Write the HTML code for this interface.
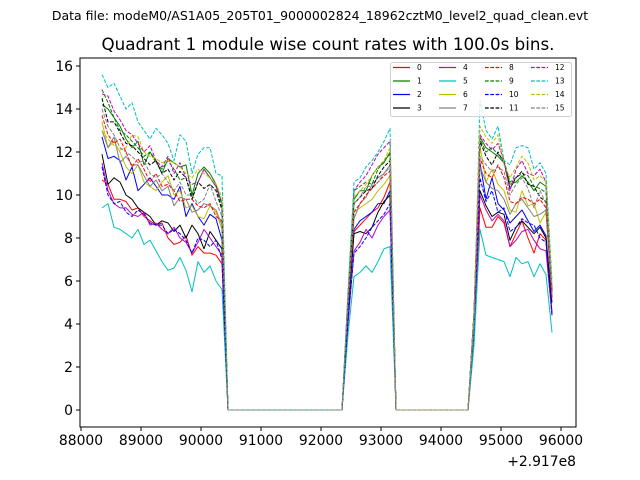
<!DOCTYPE html>
<html><head><meta charset="utf-8"><style>
html,body{margin:0;padding:0;background:#fff;width:640px;height:480px;overflow:hidden}
svg{font-family:"DejaVu Sans","Liberation Sans",sans-serif}
</style></head><body>
<svg id="chart" width="640" height="480" viewBox="0 0 640 480" xmlns="http://www.w3.org/2000/svg">
<rect width="640" height="480" fill="#fff"/>
<text x="320" y="20" font-size="12.5" text-anchor="middle">Data file: modeM0/AS1A05_205T01_9000002824_18962cztM0_level2_quad_clean.evt</text>
<text x="328" y="50" font-size="16.7" text-anchor="middle">Quadrant 1 module wise count rates with 100.0s bins.</text>
<g id="plot"></g>
<g id="axes"></g>
<g id="legend"></g>
<text x="576" y="466" font-size="13.9" text-anchor="end">+2.917e8</text>
</svg>
<script>
const xTicks=[88000,89000,90000,91000,92000,93000,94000,95000,96000];
const yTicks=[0,2,4,6,8,10,12,14,16];
const tStart=88350, tStep=100, nBins=76;
const gapA=[0,0,0,0,0,0,0,0,0,0,0,0,0,0,0,0,0,0,0,0];
const gapB=[0,0,0,0,0,0,0,0,0,0,0,0,0];
const seriesNames=["0","1","2","3","4","5","6","7","8","9","10","11","12","13","14","15"];
const s0seg1=[10.7,10.5,9.8,9.8,9.7,9.3,9.4,9.0,8.8,8.6,8.7,8.0,7.7,7.8,8.1,7.2,7.6,7.3,7.3,7.2,6.8];
const s1seg1=[14.2,14.0,13.6,13.2,12.6,12.2,12.5,11.4,12.0,11.6,11.0,11.7,11.5,11.3,11.4,10.0,11.0,11.3,11.0,10.5,9.6];
const s2seg1=[12.7,11.7,11.8,11.6,10.7,11.3,10.2,10.5,10.8,10.4,10.0,10.0,9.8,10.4,9.0,9.6,9.0,8.6,9.1,8.9,7.9];
const s3seg1=[11.9,10.5,10.8,10.6,10.0,9.8,9.4,9.2,9.0,8.6,8.8,8.7,8.3,8.6,8.0,8.6,8.2,7.5,8.3,7.9,7.5];
const s4seg1=[11.5,10.2,9.6,9.4,9.4,9.1,9.0,9.2,8.6,8.7,8.4,8.2,8.5,8.0,7.8,7.3,7.8,8.4,8.0,7.6,7.2];
const s5seg1=[9.4,9.6,8.5,8.4,8.2,8.0,8.4,7.7,7.9,7.4,6.9,6.5,6.6,7.1,6.5,5.5,6.9,6.4,6.7,6.0,5.6];
const s6seg1=[13.4,12.2,12.5,12.0,11.3,11.0,11.4,10.6,10.4,10.2,10.6,10.9,10.0,10.2,9.4,9.5,9.0,8.9,9.5,9.2,8.4];
const s7seg1=[13.0,12.2,12.7,11.5,11.8,11.4,11.4,10.9,10.4,10.7,10.2,10.4,9.5,9.9,9.8,9.2,9.3,9.6,9.5,9.3,8.6];
const s8seg1=[13.7,12.8,12.4,12.6,12.0,11.3,11.7,11.2,10.6,11.0,10.4,10.5,10.2,9.7,9.8,9.8,9.5,9.4,9.6,9.0,8.8];
const s9seg1=[14.9,14.3,13.6,13.0,12.8,12.5,12.2,11.8,12.0,11.5,11.2,11.6,11.2,10.7,10.8,9.9,10.6,11.2,10.8,10.4,9.4];
const s10seg1=[11.3,10.0,9.6,9.7,9.2,9.0,9.3,9.1,8.7,8.6,8.6,8.2,8.4,8.2,7.9,7.3,8.0,7.9,7.6,7.9,7.0];
const s11seg1=[14.5,13.4,13.4,12.9,12.4,12.3,12.0,11.7,11.4,11.6,11.0,11.2,10.7,11.1,10.8,9.8,10.6,10.3,10.5,10.2,9.3];
const s12seg1=[14.7,14.6,13.9,13.5,13.0,12.8,12.4,12.0,12.3,11.6,11.3,11.8,11.0,11.5,10.8,10.5,10.6,11.2,10.8,10.4,9.6];
const s13seg1=[15.6,15.0,15.2,14.6,14.0,14.3,13.4,13.0,12.6,13.1,12.8,12.4,11.6,12.8,12.5,11.0,11.9,12.2,12.2,11.0,10.9];
const s14seg1=[13.0,12.6,12.3,12.1,12.2,12.8,12.7,12.0,11.8,11.7,11.5,11.6,11.5,11.3,11.0,10.8,11.2,11.0,10.8,10.5,9.9];
const s15seg1=[14.0,13.2,12.8,12.2,12.0,11.8,11.5,11.6,11.0,10.8,11.0,10.6,10.2,10.6,10.0,10.0,9.6,9.8,10.5,9.7,9.0];
const s0seg2=[4.5,8.3,8.6,8.9,9.2,9.4,9.9,10.6];
const s1seg2=[5.2,9.8,10.2,10.2,10.9,11.3,11.5,12.0];
const s2seg2=[4.4,8.4,8.8,9.0,9.2,9.6,9.6,10.2];
const s3seg2=[4.6,8.2,8.3,8.2,8.5,9.2,9.7,10.0];
const s4seg2=[4.0,7.4,7.8,8.4,8.0,8.6,9.0,9.3];
const s5seg2=[3.5,6.2,6.4,6.7,6.4,6.9,7.5,7.6];
const s6seg2=[5.0,9.2,9.4,9.6,9.8,10.2,10.5,10.9];
const s7seg2=[4.8,8.9,9.6,9.9,10.5,10.8,11.0,11.4];
const s8seg2=[5.0,9.2,9.6,10.0,10.3,10.6,10.9,11.1];
const s9seg2=[5.3,10.2,10.4,10.6,10.5,11.2,11.6,11.9];
const s10seg2=[4.2,7.3,7.6,8.0,8.5,8.8,9.1,9.6];
const s11seg2=[5.1,9.6,9.9,10.2,10.3,10.9,11.3,11.6];
const s12seg2=[5.4,10.2,10.6,10.9,11.4,11.9,12.2,12.5];
const s13seg2=[5.5,10.6,10.8,11.3,11.6,12.0,12.5,13.1];
const s14seg2=[5.2,9.9,10.2,10.5,10.9,11.3,11.6,12.2];
const s15seg2=[5.0,9.6,9.9,10.4,10.4,10.6,11.0,11.3];
const s0seg3=[3.5,9.4,8.5,8.5,9.0,8.7,7.6,8.2,8.8,8.0,7.3,8.2,7.9,4.5];
const s1seg3=[4.5,12.7,12.2,12.0,11.8,11.5,10.5,10.6,10.9,10.6,10.2,10.6,10.4,5.5];
const s2seg3=[4.0,11.5,9.8,10.8,9.6,9.3,8.7,9.0,9.3,8.8,8.3,8.6,8.1,4.5];
const s3seg3=[3.8,10.2,9.5,9.0,9.2,9.1,7.9,8.5,8.8,8.5,8.2,8.5,8.0,5.0];
const s4seg3=[3.7,10.0,9.3,8.8,9.1,8.8,7.6,7.9,8.3,8.4,7.9,7.5,7.4,4.4];
const s5seg3=[3.0,8.4,7.2,7.1,7.0,6.9,6.2,7.1,6.8,6.9,6.2,6.8,6.3,3.6];
const s6seg3=[4.0,12.3,10.6,11.2,10.5,10.2,9.3,9.2,10.2,9.5,9.6,8.7,9.2,5.3];
const s7seg3=[4.0,11.3,10.6,10.3,10.2,9.8,9.1,9.6,9.8,9.4,9.0,9.1,9.3,5.2];
const s8seg3=[4.0,11.7,11.0,10.8,11.4,10.8,9.7,9.6,9.9,9.8,9.6,9.8,9.4,5.2];
const s9seg3=[4.5,12.6,12.0,12.2,11.9,11.6,10.6,10.8,11.0,10.9,10.4,10.3,10.1,5.6];
const s10seg3=[3.8,10.8,9.7,10.2,9.2,9.4,8.3,8.5,8.9,8.7,8.6,8.0,7.8,4.4];
const s11seg3=[4.5,12.5,11.8,11.4,12.0,11.5,10.3,10.8,11.1,10.5,10.4,9.9,9.7,5.5];
const s12seg3=[4.5,12.8,12.4,12.1,12.4,11.6,10.2,11.2,11.6,11.0,10.9,11.2,10.6,5.6];
const s13seg3=[4.0,14.4,13.0,12.6,13.2,11.6,11.4,12.2,12.3,12.2,11.2,11.5,11.0,6.0];
const s14seg3=[4.5,13.2,12.7,12.4,12.8,11.4,10.8,11.3,11.8,11.5,10.7,10.9,10.6,5.8];
const s15seg3=[4.3,11.8,11.4,11.1,11.3,11.1,10.0,10.5,10.8,10.3,9.4,10.2,9.6,5.4];
const seg1=[s0seg1,s1seg1,s2seg1,s3seg1,s4seg1,s5seg1,s6seg1,s7seg1,s8seg1,s9seg1,s10seg1,s11seg1,s12seg1,s13seg1,s14seg1,s15seg1];
const seg2=[s0seg2,s1seg2,s2seg2,s3seg2,s4seg2,s5seg2,s6seg2,s7seg2,s8seg2,s9seg2,s10seg2,s11seg2,s12seg2,s13seg2,s14seg2,s15seg2];
const seg3=[s0seg3,s1seg3,s2seg3,s3seg3,s4seg3,s5seg3,s6seg3,s7seg3,s8seg3,s9seg3,s10seg3,s11seg3,s12seg3,s13seg3,s14seg3,s15seg3];

const colors=["#ff0000","#008000","#0000ff","#000000","#bf00bf","#00bfbf","#bfbf00","#808080"];
const NS="http://www.w3.org/2000/svg";
const L=80,R=576,T=58,B=427;
function xs(v){return 81+(v-88000)*0.06;}
function ys(v){return 410-v*21.5;}
function mk(tag,attrs,parent){const e=document.createElementNS(NS,tag);for(const k in attrs)e.setAttribute(k,attrs[k]);parent.appendChild(e);return e;}
const plot=document.getElementById('plot'),axes=document.getElementById('axes'),leg=document.getElementById('legend');

for(let s=0;s<16;s++){
  const vals=[...seg1[s],...gapA,...seg2[s],...gapB,...seg3[s]];
  let d='';
  for(let i=0;i<vals.length;i++){const t=tStart+i*tStep;d+=(i?'L':'M')+xs(t).toFixed(1)+' '+ys(vals[i]).toFixed(1);}
  const p=mk('path',{d:d,fill:'none',stroke:colors[s%8],'stroke-width':1,'stroke-linejoin':'round'},plot);
  if(s>=8)p.setAttribute('stroke-dasharray','3.7 1.6');
  
  
}
const frame=mk('rect',{x:L,y:T,width:R-L,height:B-T,fill:'none',stroke:'#000','stroke-width':1},axes);


xTicks.forEach(v=>{
  const x=xs(v);
  const tk=mk('line',{x1:x,x2:x,y1:B,y2:B+4,stroke:'#000'},axes);
  
  
  const tx=mk('text',{x:x,y:B+18,'font-size':13.9,'text-anchor':'middle'},axes);
  tx.textContent=v;
  
  
});
yTicks.forEach(v=>{
  const y=ys(v);
  const tk=mk('line',{x1:L-4,x2:L,y1:y,y2:y,stroke:'#000'},axes);
  
  
  const tx=mk('text',{x:L-7,y:y+5,'font-size':13.9,'text-anchor':'end'},axes);
  tx.textContent=v;
  
  
});
const lb=mk('rect',{x:390.5,y:62.5,width:181,height:54,rx:2,fill:'#fff','fill-opacity':0.8,stroke:'#d0d0d0'},leg);


const colX=[393,439,485,531], rowY=[67.5,81,94.5,108];
for(let s=0;s<16;s++){
  const c=Math.floor(s/4),r=s%4;
  const ln=mk('line',{x1:colX[c],x2:colX[c]+17,y1:rowY[r],y2:rowY[r],stroke:colors[s%8],'stroke-width':1.3},leg);
  if(s>=8)ln.setAttribute('stroke-dasharray','3.7 1.6');
  
  
  const tx=mk('text',{x:colX[c]+24,y:rowY[r]+2.5,'font-size':7.5},leg);
  tx.textContent=seriesNames[s];
  
  
}
</script>
</body></html>
